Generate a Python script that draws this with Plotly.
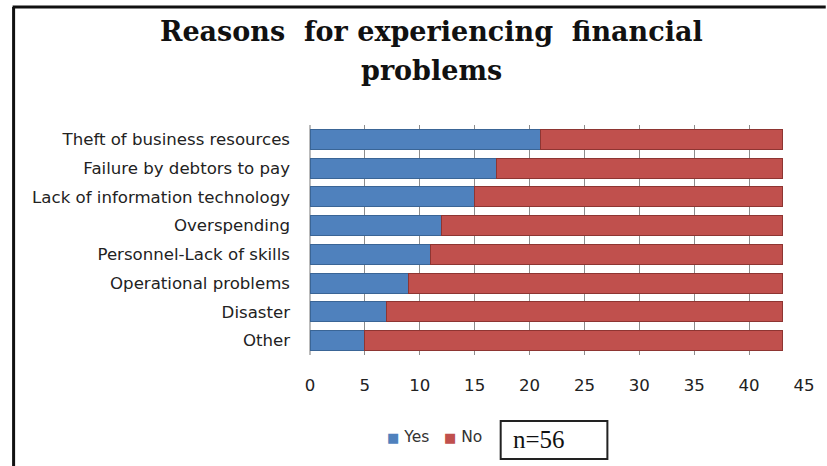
import plotly.graph_objects as go

# Survey responses per reason (n=56)
categories = [
    "Theft of business resources",
    "Failure by debtors to pay",
    "Lack of information technology",
    "Overspending",
    "Personnel-Lack of skills",
    "Operational problems",
    "Disaster",
    "Other",
]
yes_counts = [21, 17, 15, 12, 11, 9, 7, 5]
no_counts = [22, 26, 28, 31, 32, 34, 36, 38]
x_ticks = [0, 5, 10, 15, 20, 25, 30, 35, 40, 45]

W, H = 827, 466
L, R, T, B = 310, 17, 125, 111
PW, PH = W - L - R, H - T - B


def px_x(px):
    return (px - L) / PW


def px_y(py):
    return (H - B - py) / PH


label_font = dict(family="DejaVu Sans", size=16.6, color="#222222")
title_font = dict(family="DejaVu Serif", size=27, color="#111111")

fig = go.Figure()
fig.add_trace(go.Bar(
    y=categories, x=yes_counts, name="Yes", orientation="h",
    marker=dict(color="#4F81BD", line=dict(color="#3A6596", width=1)),
))
fig.add_trace(go.Bar(
    y=categories, x=no_counts, name="No", orientation="h",
    marker=dict(color="#C0504D", line=dict(color="#8E3532", width=1)),
))

shapes = [
    # outer frame (left and top edges)
    dict(type="line", xref="paper", yref="paper",
         x0=px_x(10), x1=px_x(10), y0=px_y(7), y1=px_y(H + 5),
         line=dict(color="#111111", width=3)),
    dict(type="line", xref="paper", yref="paper",
         x0=px_x(9), x1=px_x(W + 5), y0=px_y(7), y1=px_y(7),
         line=dict(color="#111111", width=3)),
    # n=56 box
    dict(type="rect", xref="paper", yref="paper",
         x0=px_x(503), x1=px_x(611), y0=px_y(421), y1=px_y(459),
         line=dict(color="#222222", width=2)),
]

annotations = [
    # chart title, two lines
    dict(xref="paper", yref="paper", x=px_x(433), y=px_y(32),
         xanchor="center", yanchor="middle", showarrow=False,
         text="<b>Reasons  for experiencing  financial</b>", font=title_font),
    dict(xref="paper", yref="paper", x=px_x(433), y=px_y(70),
         xanchor="center", yanchor="middle", showarrow=False,
         text="<b>problems</b>", font=title_font),
    # sample size box label
    dict(xref="paper", yref="paper", x=px_x(513), y=px_y(440),
         xanchor="left", yanchor="middle", showarrow=False,
         text="n=56", font=dict(family="Liberation Serif", size=25, color="#111111")),
    # legend
    dict(xref="paper", yref="paper", x=px_x(386), y=px_y(437),
         xanchor="left", yanchor="middle", showarrow=False,
         text=("<span style='color:#4F81BD;font-size:13px'>■</span> Yes&nbsp;&nbsp;&nbsp;"
               "<span style='color:#C0504D;font-size:13px'>■</span> No"),
         font=dict(family="DejaVu Sans", size=15.5, color="#333333")),
]

fig.update_layout(
    width=W, height=H,
    margin=dict(l=L, r=R, t=T, b=B),
    paper_bgcolor="white", plot_bgcolor="white",
    barmode="stack", bargap=0.31,
    showlegend=False,
    xaxis=dict(
        range=[0, 45], tickvals=x_ticks, ticktext=[str(v) for v in x_ticks],
        showgrid=True, gridcolor="#8C8C8C", gridwidth=1,
        zeroline=True, zerolinecolor="#BBBBBB", zerolinewidth=2,
        showline=False, ticks="", ticklabelstandoff=18,
        tickfont=label_font,
    ),
    yaxis=dict(
        categoryorder="array", categoryarray=categories[::-1],
        showgrid=False, showline=False, ticks="", ticklabelstandoff=19,
        tickfont=label_font,
    ),
    shapes=shapes,
    annotations=annotations,
)

fig.write_html("out.html")
